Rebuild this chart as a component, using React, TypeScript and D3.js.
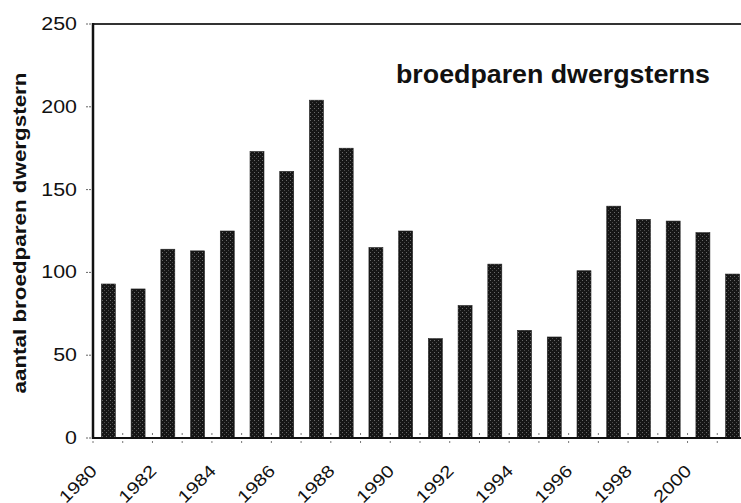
import * as d3 from "d3";

const years = [
  1980, 1981, 1982, 1983, 1984, 1985, 1986, 1987, 1988, 1989, 1990,
  1991, 1992, 1993, 1994, 1995, 1996, 1997, 1998, 1999, 2000, 2001,
];
const pairs = [
  93, 90, 114, 113, 125, 173, 161, 204, 175, 115, 125,
  60, 80, 105, 65, 61, 101, 140, 132, 131, 124, 99,
];
const yTicks = [0, 50, 100, 150, 200, 250];
const xLabelYears = [1980, 1982, 1984, 1986, 1988, 1990, 1992, 1994, 1996, 1998, 2000];

const title = "broedparen dwergsterns";
const yTitle = "aantal broedparen dwergstern";

const W = 741;
const H = 503;
const M = { left: 93, top: 24, right: -6, bottom: 65 };

export default function App() {
  const plotW = W - M.left - M.right;
  const plotH = H - M.top - M.bottom;

  const x = d3
    .scaleBand<number>()
    .domain(years)
    .range([0, plotW])
    .padding(0);
  const y = d3.scaleLinear().domain([0, 250]).range([plotH, 0]);

  const bw = x.bandwidth();
  const barW = bw * 0.47;
  const font = "'Liberation Sans', Arial, Helvetica, sans-serif";

  return (
    <div style={{ position: "fixed", left: 0, top: 0, width: W, height: H, background: "#fff" }}>
      <svg width={W} height={H} style={{ display: "block", fontFamily: font }}>
        <defs>
          <pattern id="grain" width="4" height="4" patternUnits="userSpaceOnUse">
            <rect width="4" height="4" fill="#161616" />
            <rect x="1" y="0" width="1" height="1" fill="#6a6a6a" />
            <rect x="3" y="2" width="1" height="1" fill="#4a4a4a" />
          </pattern>
        </defs>

        {/* y axis title */}
        <g transform={`translate(26,${M.top + plotH / 2 + 2}) rotate(-90)`}>
          <text
            textAnchor="middle"
            fontSize={18.5}
            fontWeight={700}
            textLength={321}
            lengthAdjust="spacingAndGlyphs"
            fill="#111"
          >
            {yTitle}
          </text>
        </g>

        <g transform={`translate(${M.left},${M.top})`}>
          {/* bars */}
          {years.map((yr, i) => (
            <rect
              key={yr}
              x={(x(yr) ?? 0) + (bw - barW) / 2 + 0.5}
              y={y(pairs[i])}
              width={barW}
              height={plotH - y(pairs[i])}
              fill="url(#grain)"
              stroke="#222"
              strokeWidth={0.6}
            />
          ))}

          {/* y ticks + labels */}
          {yTicks.map((t) => (
            <g key={t} transform={`translate(0,${y(t)})`}>
              <line x1={-7} x2={0} stroke="#666" strokeWidth={1} strokeDasharray="2,1" />
              <text
                x={-16}
                y={6}
                textAnchor="end"
                fontSize={17.5}
                textLength={String(t).length * 11.9}
                lengthAdjust="spacingAndGlyphs"
                fill="#111"
              >
                {t}
              </text>
            </g>
          ))}

          {/* x ticks at band boundaries */}
          {years.map((yr) => (
            <line
              key={yr}
              x1={x(yr) ?? 0}
              x2={x(yr) ?? 0}
              y1={plotH - 5}
              y2={plotH + 6}
              stroke="#777"
              strokeWidth={1}
              strokeDasharray="2,2"
            />
          ))}

          {/* frame */}
          <line x1={0} x2={plotW} y1={0} y2={0} stroke="#333" strokeWidth={2} />
          <line x1={0} x2={plotW} y1={plotH} y2={plotH} stroke="#111" strokeWidth={2} />
          <line x1={0} x2={0} y1={-1} y2={plotH + 1} stroke="#111" strokeWidth={2.5} />

          {/* x labels */}
          {xLabelYears.map((yr) => (
            <text
              key={yr}
              transform={`translate(${(x(yr) ?? 0) + 5},${plotH + 34}) rotate(-45) scale(1.2,1)`}
              textAnchor="end"
              fontSize={17}
              fill="#111"
            >
              {yr}
            </text>
          ))}

          {/* title */}
          <text
            x={396 - M.left}
            y={83 - M.top}
            fontSize={26}
            fontWeight={700}
            textLength={314}
            lengthAdjust="spacingAndGlyphs"
            fill="#111"
          >
            {title}
          </text>
        </g>
      </svg>
    </div>
  );
}
